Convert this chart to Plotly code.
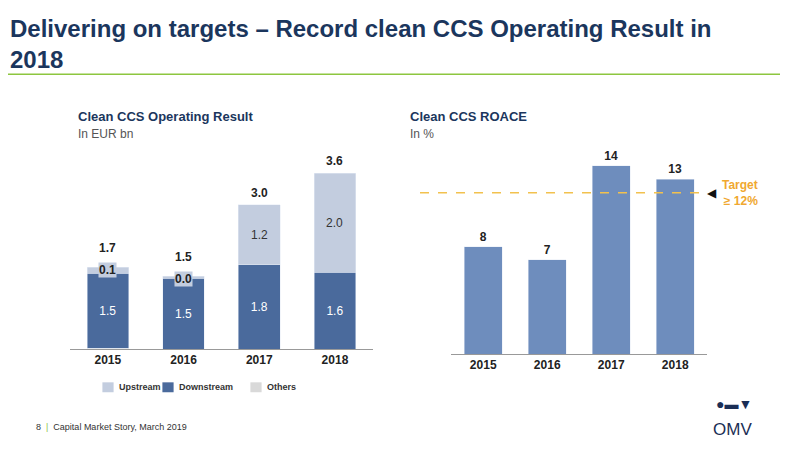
import plotly.graph_objects as go

years = ["2015", "2016", "2017", "2018"]
others = [0.02, 0.0, 0.0, 0.0]
downstream = [1.53, 1.45, 1.73, 1.57]
upstream = [0.12, 0.04, 1.22, 2.03]
down_labels = ["1.5", "1.5", "1.8", "1.6"]
up_labels = ["0.1", "0.0", "1.2", "2.0"]
totals = [1.7, 1.5, 3.0, 3.6]
roace = [8, 7, 14, 13]
target = 12

NAVY = "#1B365D"
DB = "#4A6A9C"
UB = "#C3CDDF"
OG = "#D9D9D9"
RB = "#6E8DBD"
F = "Liberation Sans, Arial, sans-serif"

fig = go.Figure()
fig.add_bar(x=years, y=others, name="Others", marker_color=OG, xaxis="x", yaxis="y", showlegend=False)
fig.add_bar(x=years, y=downstream, name="Downstream", marker_color=DB, xaxis="x", yaxis="y",
            text=down_labels, textposition="inside", insidetextanchor="middle",
            textfont=dict(color="white", size=12, family=F), showlegend=False)
fig.add_bar(x=years, y=upstream, name="Upstream", marker_color=UB, xaxis="x", yaxis="y", showlegend=False)
fig.add_bar(x=years, y=roace, marker_color=RB, xaxis="x2", yaxis="y2", showlegend=False, width=0.6,
            text=["<b>%d</b>" % v for v in roace], textposition="outside", cliponaxis=False,
            textfont=dict(color="#222", size=12, family=F))

ann = []
for i, y in enumerate(years):
    base = others[i] + downstream[i]
    tot = base + upstream[i]
    ann.append(dict(x=i, y=tot, xref="x", yref="y", text="<b>%.1f</b>" % totals[i], showarrow=False,
                    yanchor="bottom", yshift=3 if upstream[i] > 0.5 else 10, font=dict(size=12, color="#222", family=F)))
    if upstream[i] > 0.5:
        ann.append(dict(x=i, y=base + upstream[i] / 2, xref="x", yref="y", text=up_labels[i], showarrow=False,
                        font=dict(size=12, color="#333", family=F)))
    else:
        ann.append(dict(x=i, y=tot, xref="x", yref="y", text="<b>%s</b>" % up_labels[i], showarrow=False,
                        yanchor="middle", yshift=-3, bgcolor=UB, borderpad=0,
                        font=dict(size=12, color="#222", family=F)))

fig.add_shape(type="line", xref="paper", yref="y2", x0=0.515, x1=0.87, y0=target, y1=target,
              line=dict(color="#F2C14E", width=1.5, dash="dash"))
ann.append(dict(xref="paper", yref="y2", x=0.88, y=target, text="◀", showarrow=False,
                font=dict(size=12, color="#111"), xanchor="center"))
ann.append(dict(xref="paper", yref="y2", x=0.94, y=target, text="<b>Target<br>≥ 12%</b>", showarrow=False,
                font=dict(size=12, color="#F0A830", family=F), align="right", xanchor="right"))

ann += [
    dict(xref="paper", yref="paper", x=0.0, y=0.99, xanchor="left", yanchor="top", showarrow=False, align="left",
         text="<b>Delivering on targets – Record clean CCS Operating Result in<br>2018</b>",
         font=dict(size=24, color=NAVY, family=F)),
    dict(xref="paper", yref="paper", x=0.085, y=0.738, xanchor="left", yanchor="bottom", showarrow=False,
         text="<b>Clean CCS Operating Result</b>", font=dict(size=13, color=NAVY, family=F)),
    dict(xref="paper", yref="paper", x=0.085, y=0.74, xanchor="left", yanchor="top", showarrow=False,
         text="In EUR bn", font=dict(size=12, color="#555", family=F)),
    dict(xref="paper", yref="paper", x=0.5, y=0.738, xanchor="left", yanchor="bottom", showarrow=False,
         text="<b>Clean CCS ROACE</b>", font=dict(size=13, color=NAVY, family=F)),
    dict(xref="paper", yref="paper", x=0.5, y=0.74, xanchor="left", yanchor="top", showarrow=False,
         text="In %", font=dict(size=12, color="#555", family=F)),
    dict(xref="paper", yref="paper", x=0.032, y=0.055, xanchor="left", showarrow=False,
         text="8  <span style='color:#8DC63F'>|</span>  Capital Market Story, March 2019", font=dict(size=9, color="#333", family=F)),
    dict(xref="paper", yref="paper", x=0.932, y=0.04, showarrow=False,
         text="OMV", font=dict(size=17, color="#1B2E55", family=F)),
    dict(xref="paper", yref="paper", x=0.932, y=0.1, showarrow=False,
         text="<b>●▬▼</b>", font=dict(size=14, color="#1B2E55", family=F)),
]
lx = [0.14, 0.215, 0.325]
lt = ["Upstream", "Downstream", "Others"]
lc = [UB, DB, OG]
for x, t, c in zip(lx, lt, lc):
    fig.add_shape(type="rect", xref="paper", yref="paper", x0=x - 0.022, x1=x - 0.008, y0=0.148, y1=0.17,
                  fillcolor=c, line_width=0)
    ann.append(dict(xref="paper", yref="paper", x=x - 0.004, y=0.159, xanchor="left", yanchor="middle", showarrow=False,
                    text="<b>%s</b>" % t, font=dict(size=9, color="#333", family=F)))

fig.add_shape(type="line", xref="paper", yref="paper", x0=0.0, x1=0.965, y0=0.853, y1=0.853,
              line=dict(color="#8DC63F", width=1.5))

fig.update_layout(
    width=800, height=451, margin=dict(l=0, r=0, t=0, b=0),
    paper_bgcolor="white", plot_bgcolor="white", barmode="stack", bargap=0.45,
    annotations=ann,
    xaxis=dict(type="category", domain=[0.0775, 0.456], range=[-0.5, 3.5], showgrid=False, showline=True,
               linecolor="#999", ticks="", tickfont=dict(size=12, color="#222", family=F),
               tickprefix="<b>", ticksuffix="</b>", anchor="y"),
    yaxis=dict(domain=[1 - 341 / 451, 1 - 131 / 451], range=[0, 4.3], visible=False, anchor="x"),
    xaxis2=dict(type="category", domain=[0.554, 0.874], range=[-0.5, 3.5], showgrid=False, showline=True,
                linecolor="#999", ticks="", tickfont=dict(size=12, color="#222", family=F),
                tickprefix="<b>", ticksuffix="</b>", anchor="y2"),
    yaxis2=dict(domain=[1 - 346 / 451, 1 - 131 / 451], range=[0, 16.0], visible=False, anchor="x2"),
    font=dict(family=F),
)
fig.write_html("out.html")
